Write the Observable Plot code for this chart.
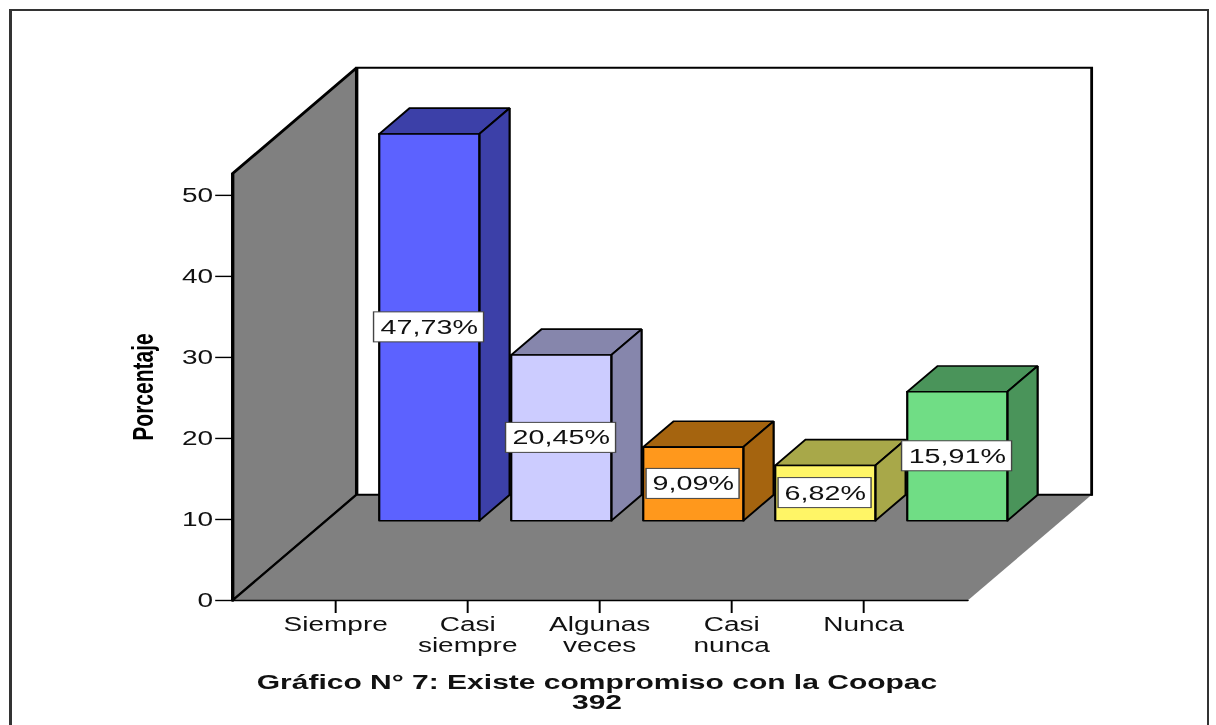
<!DOCTYPE html>
<html lang="es">
<head>
<meta charset="utf-8">
<script src="https://cdn.jsdelivr.net/npm/d3@7"></script>
<script src="https://cdn.jsdelivr.net/npm/@observablehq/plot@0.6"></script>
<style>
  html, body { margin: 0; padding: 0; background: #fff; overflow: hidden; height: 725px; }
  #frame { position: absolute; left: 9px; top: 9px; width: 1195px; height: 800px;
           border: solid #333; border-width: 2px 2px 0 3px; }
  #chart { position: absolute; left: 0; top: 0; width: 1216px; filter: blur(0.4px); }
  #title { position: absolute; left: 0; top: 672px; width: 1194px; text-align: center;
           font: bold 20px/20px "Liberation Sans", Arial, sans-serif; color: #111; filter: blur(0.3px); }
  #title div { transform: scaleX(1.5); transform-origin: 50% 0; }
</style>
</head>
<body>
<div id="frame"></div>
<div id="chart"></div>
<div id="title"><div>Gráfico N° 7: Existe compromiso con la Coopac</div><div>392</div></div>
<script>
const categories = ["Siempre", "Casi\nsiempre", "Algunas\nveces", "Casi\nnunca", "Nunca"];
const values = [47.73, 20.45, 9.09, 6.82, 15.91];
const valueLabels = ["47,73%", "20,45%", "9,09%", "6,82%", "15,91%"];
const frontColors = ["#5c62ff", "#ccccff", "#ff981c", "#fff566", "#70dd85"];
const sideColors = ["#3c40a8", "#8686ac", "#a5640f", "#a8a849", "#4a945a"];
const yTicks = [0, 10, 20, 30, 40, 50];

const stretch = 1.4;          // the source picture is widened horizontally
const H = 664;
const xMin = -0.78, xMax = 4.788, yMax = 52.7;
const depthX = 0.939, depthY = 13.04;       // full depth, in category and percent units
const zFront = 0.755, zBack = 1;
const halfBar = 0.379;
const fontSize = 20;

const P = (x, y, z = 0) => ({x: x + z * depthX, y: y + z * depthY});
const face = (pts, fill, strokeWidth = 1.6) =>
  Plot.line([...pts, pts[0]], {x: "x", y: "y", fill, stroke: "#000",
    strokeWidth, strokeLinejoin: "miter", strokeMiterlimit: 2});

const marks = [];
// back wall
marks.push(face([P(xMin, 0, 1), P(xMax, 0, 1), P(xMax, yMax, 1), P(xMin, yMax, 1)], "#fff", 2));
// left wall
marks.push(face([P(xMin, 0, 0), P(xMin, yMax, 0), P(xMin, yMax, 1), P(xMin, 0, 1)], "#808080", 2.4));
// floor
marks.push(Plot.line([P(xMin, 0, 0), P(xMax, 0, 0), P(xMax, 0, 1), P(xMin, 0, 1), P(xMin, 0, 0)],
  {x: "x", y: "y", fill: "#808080", stroke: "none"}));
marks.push(Plot.line([P(xMax, 0, 1), P(xMin, 0, 1), P(xMin, 0, 0), P(xMax, 0, 0)],
  {x: "x", y: "y", stroke: "#000", strokeWidth: 1.6}));

// bars
values.forEach((v, i) => {
  const a = i - halfBar, b = i + halfBar;
  marks.push(face([P(a, v, zFront), P(b, v, zFront), P(b, v, zBack), P(a, v, zBack)], sideColors[i]));
  marks.push(face([P(b, 0, zFront), P(b, 0, zBack), P(b, v, zBack), P(b, v, zFront)], sideColors[i]));
  marks.push(face([P(a, 0, zFront), P(b, 0, zFront), P(b, v, zFront), P(a, v, zFront)], frontColors[i]));
});

// value labels in boxes at the middle of each front face
const labelRows = values.map((v, i) => {
  const c = P(i, v / 2, zFront);
  const hw = (valueLabels[i].length === 6 ? 55 : 46.5) / 132;
  const hh = 15 / 8.1;
  return {x: c.x, y: c.y, x1: c.x - hw, x2: c.x + hw, y1: c.y - hh, y2: c.y + hh, label: valueLabels[i]};
});
marks.push(Plot.rect(labelRows, {x1: "x1", x2: "x2", y1: "y1", y2: "y2", fill: "#fff", stroke: "#444", strokeWidth: 1}));
marks.push(Plot.text(labelRows, {x: "x", y: "y", text: "label", fontSize: 20.5, fill: "#111"}));

// axes
marks.push(Plot.axisY({ticks: yTicks, tickSize: 12, tickPadding: 2, fontSize, fill: "#111", strokeWidth: 1.4, label: null}));
marks.push(Plot.axisX({ticks: d3.range(categories.length), tickFormat: i => categories[i], tickSize: 13, tickPadding: 3,
  fontSize, fill: "#111", strokeWidth: 1.4, lineHeight: 1.05, label: null}));
marks.push(Plot.text(["Porcentaje"], {text: d => d, frameAnchor: "left", textAnchor: "middle", rotate: -90, dx: -64,
  fontSize: 21, fontWeight: "bold", fill: "#000"}));

const svg = Plot.plot({
  width: 1216 / stretch,
  height: H,
  marginLeft: 232 / stretch,
  marginRight: (1216 - 967) / stretch,
  marginTop: 173,
  marginBottom: H - 600,
  x: {domain: [xMin, xMax]},
  y: {domain: [0, yMax]},
  style: {fontFamily: "'Liberation Sans', Arial, sans-serif", background: "transparent", overflow: "visible"},
  marks
});
svg.setAttribute("width", 1216);
svg.setAttribute("preserveAspectRatio", "none");
svg.style.width = "1216px";
svg.style.height = H + "px";
svg.style.maxWidth = "none";
svg.style.display = "block";
document.getElementById("chart").append(svg);
</script>
</body>
</html>
